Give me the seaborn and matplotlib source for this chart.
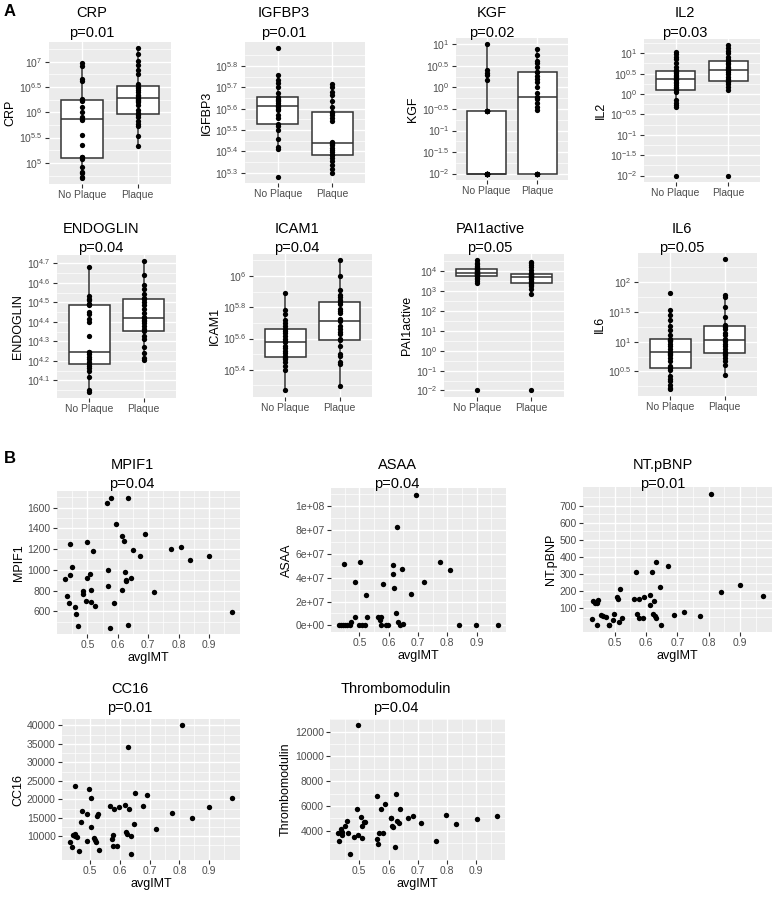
import pandas as pd
import seaborn as sns
import matplotlib.pyplot as plt
from matplotlib.ticker import FixedLocator, FuncFormatter

W, H = 777, 898
GROUPS = ['No Plaque', 'Plaque']

# ---- panel A: log10 levels by plaque status
crp_no = [4.71, 4.73, 4.80, 4.82, 4.92, 5.08, 5.11, 5.11, 5.35, 5.55, 5.85, 5.87, 5.91, 6.00, 6.10, 6.22,
          6.25, 6.27, 6.62, 6.66, 6.92, 6.97]
crp_yes = [5.33, 5.53, 5.73, 5.77, 5.82, 5.90, 5.95, 5.98, 6.05, 6.14, 6.20, 6.22, 6.25, 6.27, 6.29, 6.32,
           6.35, 6.39, 6.44, 6.48, 6.50, 6.55, 6.76, 6.84, 6.93, 7.02, 7.15, 7.26]
igfbp3_no = [5.282, 5.409, 5.422, 5.456, 5.502, 5.521, 5.530, 5.555, 5.572, 5.595, 5.600, 5.608, 5.612,
             5.617, 5.625, 5.634, 5.640, 5.645, 5.655, 5.673, 5.701, 5.722, 5.735, 5.757, 5.882]
igfbp3_yes = [5.298, 5.316, 5.338, 5.357, 5.370, 5.381, 5.384, 5.397, 5.405, 5.416, 5.429, 5.435, 5.440,
              5.443, 5.541, 5.557, 5.570, 5.580, 5.583, 5.608, 5.634, 5.665, 5.676, 5.701, 5.716]
kgf_no = [-2, -2, -2, -2, -2, -2, -2, -2, -2, -2, -2, -2, -2, -0.54, -0.54, -0.54, -0.54, -0.54, -0.54,
          0.17, 0.29, 0.34, 0.41, 1.0]
kgf_yes = [-2, -2, -2, -2, -2, -2, -2, -0.519, -0.45, -0.35, -0.272, -0.25, -0.211, -0.118, 0.005, 0.136,
           0.198, 0.268, 0.35, 0.368, 0.483, 0.56, 0.614, 0.753, 0.884]
il2_no = [-2, -0.32, -0.28, -0.22, -0.15, 0.05, 0.09, 0.11, 0.14, 0.18, 0.22, 0.26, 0.30, 0.34, 0.357, 0.38,
          0.41, 0.44, 0.47, 0.505, 0.54, 0.563, 0.59, 0.67, 0.75, 0.85, 0.92, 0.975, 1.02]
il2_yes = [-2, 0.11, 0.176, 0.233, 0.30, 0.31, 0.324, 0.365, 0.423, 0.489, 0.547, 0.58, 0.596, 0.604, 0.63,
           0.67, 0.728, 0.76, 0.80, 0.852, 0.918, 1.0, 1.066, 1.124, 1.19]
endoglin_no = [4.043, 4.051, 4.117, 4.146, 4.164, 4.172, 4.184, 4.195, 4.207, 4.221, 4.233, 4.245, 4.247,
               4.325, 4.397, 4.415, 4.440, 4.449, 4.487, 4.490, 4.492, 4.510, 4.518, 4.530, 4.683]
endoglin_yes = [4.203, 4.216, 4.242, 4.273, 4.311, 4.328, 4.352, 4.363, 4.380, 4.394, 4.405, 4.411, 4.418,
                4.423, 4.446, 4.466, 4.484, 4.50, 4.515, 4.522, 4.54, 4.570, 4.591, 4.639, 4.709]
icam1_no = [5.267, 5.40, 5.426, 5.447, 5.469, 5.478, 5.484, 5.49, 5.507, 5.522, 5.537, 5.554, 5.58, 5.586,
            5.60, 5.619, 5.636, 5.651, 5.661, 5.683, 5.70, 5.721, 5.758, 5.784, 5.891]
icam1_yes = [5.293, 5.436, 5.447, 5.49, 5.501, 5.55, 5.593, 5.597, 5.629, 5.644, 5.661, 5.683, 5.711, 5.726,
             5.764, 5.779, 5.79, 5.822, 5.833, 5.85, 5.865, 5.88, 5.914, 6.0, 6.10]
pai1_no = [-2, 3.415, 3.498, 3.582, 3.666, 3.749, 3.78, 3.80, 3.833, 3.86, 3.88, 3.90, 3.92, 3.95, 4.0, 4.03,
           4.06, 4.09, 4.117, 4.15, 4.217, 4.25, 4.334, 4.42, 4.535]
pai1_yes = [-2, 2.83, 3.10, 3.25, 3.30, 3.35, 3.381, 3.45, 3.50, 3.58, 3.63, 3.67, 3.716, 3.74, 3.78, 3.80,
            3.83, 3.85, 3.866, 3.92, 4.05, 4.20, 4.33, 4.40, 4.45]
il6_no = [0.198, 0.22, 0.276, 0.338, 0.366, 0.422, 0.517, 0.556, 0.59, 0.668, 0.72, 0.769, 0.79, 0.81, 0.825,
          0.881, 0.92, 0.954, 1.004, 1.02, 1.035, 1.043, 1.105, 1.189, 1.261, 1.368, 1.44, 1.536, 1.821]
il6_yes = [0.433, 0.60, 0.668, 0.72, 0.78, 0.80, 0.814, 0.825, 0.87, 0.926, 0.965, 1.01, 1.026, 1.049, 1.105,
           1.149, 1.205, 1.245, 1.261, 1.284, 1.412, 1.58, 1.748, 1.776, 2.375]

# ---- panel B: levels vs average IMT
mpif1_imt = [0.427, 0.433, 0.438, 0.442, 0.443, 0.448, 0.459, 0.463, 0.470, 0.484, 0.484, 0.495, 0.498, 0.498,
             0.508, 0.513, 0.513, 0.518, 0.524, 0.564, 0.567, 0.567, 0.573, 0.579, 0.589, 0.595, 0.613, 0.613,
             0.620, 0.623, 0.627, 0.628, 0.634, 0.634, 0.643, 0.649, 0.672, 0.688, 0.718, 0.774, 0.809, 0.839,
             0.900, 0.975]
mpif1 = [909, 750, 678, 1245, 949, 1030, 642, 574, 463, 795, 763, 701, 1265, 926, 958, 809, 691, 1183, 652,
         1642, 841, 994, 444, 1694, 682, 1444, 1323, 805, 1274, 975, 900, 890, 470, 1698, 926, 1193, 1134, 1349,
         782, 1203, 1216, 1095, 1134, 597]
asaa_imt = [0.430, 0.438, 0.444, 0.447, 0.452, 0.459, 0.467, 0.471, 0.486, 0.486, 0.499, 0.502, 0.510, 0.519,
            0.521, 0.527, 0.563, 0.569, 0.572, 0.575, 0.580, 0.591, 0.597, 0.614, 0.615, 0.619, 0.625, 0.627,
            0.630, 0.638, 0.645, 0.649, 0.675, 0.692, 0.720, 0.775, 0.810, 0.839, 0.899, 0.973]
asaa = [0, 0, 0, 5.14e7, 0, 0, 0, 0.28e7, 0.73e7, 3.59e7, 0, 5.31e7, 0, 0, 2.54e7, 0.68e7, 0.73e7, 0.48e7, 0,
        0.68e7, 3.50e7, 0, 0, 5.06e7, 4.29e7, 3.11e7, 1.07e7, 8.19e7, 0.28e7, 0, 4.72e7, 0.11e7, 2.60e7,
        10.93e7, 3.62e7, 5.31e7, 4.66e7, 0, 0, 0]
ntpbnp_imt = [0.426, 0.432, 0.437, 0.442, 0.442, 0.446, 0.457, 0.463, 0.471, 0.483, 0.483, 0.495, 0.499, 0.507,
              0.509, 0.515, 0.518, 0.523, 0.563, 0.569, 0.570, 0.576, 0.579, 0.589, 0.595, 0.612, 0.612, 0.620,
              0.623, 0.626, 0.628, 0.631, 0.633, 0.644, 0.649, 0.670, 0.689, 0.720, 0.773, 0.809, 0.838, 0.899,
              0.975]
ntpbnp = [36, 141, 133, 131, 2, 151, 64, 54, 52, 6, 1, 34, 68, 167, 153, 22, 213, 44, 153, 310, 68, 44, 157, 42,
          167, 181, 121, 312, 68, 141, 54, 370, 44, 227, 5, 346, 62, 82, 54, 770, 197, 239, 171]
cc16_imt = [0.449, 0.433, 0.438, 0.444, 0.449, 0.451, 0.455, 0.464, 0.469, 0.473, 0.489, 0.489, 0.498, 0.503,
            0.503, 0.513, 0.517, 0.520, 0.522, 0.526, 0.529, 0.567, 0.573, 0.576, 0.576, 0.582, 0.592, 0.596,
            0.617, 0.620, 0.624, 0.628, 0.631, 0.637, 0.639, 0.648, 0.650, 0.676, 0.690, 0.720, 0.775, 0.810,
            0.841, 0.899, 0.976]
cc16 = [23500, 8430, 7080, 10220, 10580, 10040, 9860, 6000, 13810, 16770, 16140, 8600, 22780, 20450, 12460,
        9500, 8870, 8430, 15600, 16050, 6180, 18200, 9320, 10400, 7350, 17490, 7260, 18020, 18380, 11120, 10670,
        34170, 17310, 5290, 10040, 13270, 21700, 18290, 21250, 11830, 16230, 40000, 14970, 18020, 20400]
thrombo_imt = [0.427, 0.432, 0.436, 0.440, 0.442, 0.451, 0.458, 0.462, 0.467, 0.482, 0.492, 0.497, 0.497,
               0.505, 0.508, 0.509, 0.516, 0.520, 0.560, 0.562, 0.564, 0.568, 0.573, 0.582, 0.587, 0.607, 0.609,
               0.612, 0.616, 0.622, 0.627, 0.630, 0.636, 0.639, 0.668, 0.684, 0.710, 0.761, 0.795, 0.829, 0.901,
               0.971]
thrombo = [3850, 3150, 4100, 3650, 3900, 4400, 4800, 3850, 2150, 3500, 5750, 3650, 12500, 5100, 3400, 4350,
           4700, 4700, 6800, 3300, 2950, 3850, 5750, 3850, 6150, 5050, 5000, 4400, 4300, 2700, 7000, 4800, 4600,
           5750, 5050, 5200, 4600, 3200, 5300, 4500, 4950, 5200]

sns.set_theme(style='darkgrid', rc={'axes.facecolor': '#EBEBEB', 'grid.color': 'white',
                                    'text.color': 'black', 'axes.labelcolor': 'black'})
plt.rcParams['font.family'] = ['Liberation Sans', 'DejaVu Sans']
plt.rcParams['mathtext.fontset'] = 'custom'
plt.rcParams['mathtext.rm'] = 'Liberation Sans'
plt.rcParams['mathtext.it'] = 'Liberation Sans:italic'
plt.rcParams['mathtext.bf'] = 'Liberation Sans:bold'

fig = plt.figure(figsize=(W / 100, H / 100), dpi=100)


def add_ax(x0, y0, x1, y1):
    return fig.add_axes([x0 / W, 1 - y1 / H, (x1 - x0) / W, (y1 - y0) / H])


def gg_style(ax, major, minor, fmt):
    ax.yaxis.set_major_locator(FixedLocator(major))
    ax.yaxis.set_minor_locator(FixedLocator(minor))
    ax.yaxis.set_major_formatter(FuncFormatter(fmt))
    ax.grid(which='major', axis='both', color='white', linewidth=1.0)
    ax.grid(which='minor', axis='both', color='white', linewidth=0.5)
    ax.tick_params(which='major', left=True, bottom=True, length=3, width=0.8, color='#333333',
                   labelcolor='#4D4D4D', labelsize=7.5, pad=1.5)
    ax.tick_params(which='minor', length=0)
    for s in ax.spines.values():
        s.set_visible(False)


def title(cx, y1, y2, name, p):
    fig.text(cx / W, 1 - y1 / H, name, ha='center', va='center', fontsize=10.5)
    fig.text(cx / W, 1 - y2 / H, p, ha='center', va='center', fontsize=10.5)


def pow10(v, pos):
    return f'$10^{{{v:g}}}$'


def box_panel(box, no, yes, name, major, minor):
    ax = add_ax(*box)
    df = pd.DataFrame({'group': ['No Plaque'] * len(no) + ['Plaque'] * len(yes), 'value': no + yes})
    sns.boxplot(data=df, x='group', y='value', order=GROUPS, width=0.75, color='white',
                linecolor='#333333', linewidth=1.1, showfliers=False,
                capprops={'linewidth': 0}, ax=ax)
    sns.stripplot(data=df, x='group', y='value', order=GROUPS, jitter=False, color='black',
                  size=3.8, ax=ax)
    ax.set_xlim(-0.6, 1.6)
    ax.set_xlabel('')
    ax.set_ylabel(name, fontsize=9, labelpad=2)
    gg_style(ax, major, minor, pow10)
    return ax


def scatter_panel(box, imt, vals, name, major, minor, fmt=lambda v, pos: f'{v:g}'):
    ax = add_ax(*box)
    sns.scatterplot(x=imt, y=vals, color='black', s=15, linewidth=0, ax=ax)
    ax.set_xlabel('avgIMT', fontsize=9, labelpad=1)
    ax.set_ylabel(name, fontsize=9, labelpad=2)
    ax.xaxis.set_major_locator(FixedLocator([0.5, 0.6, 0.7, 0.8, 0.9]))
    ax.xaxis.set_minor_locator(FixedLocator([0.45, 0.55, 0.65, 0.75, 0.85, 0.95]))
    ax.xaxis.set_major_formatter(FuncFormatter(lambda v, pos: f'{v:g}'))
    gg_style(ax, major, minor, fmt)
    return ax


def steps(a, b, d):
    n = int(round((b - a) / d))
    return [round(a + i * d, 4) for i in range(n + 1)]


# panel A, row 1
box_panel((49, 42, 171, 184), crp_no, crp_yes, 'CRP', steps(5, 7, 0.5), steps(4.75, 7.25, 0.5))
title(92, 13, 33, 'CRP', 'p=0.01')
box_panel((245, 42, 365, 183), igfbp3_no, igfbp3_yes, 'IGFBP3', steps(5.3, 5.8, 0.1), steps(5.25, 5.85, 0.1))
title(284, 13, 33, 'IGFBP3', 'p=0.01')
box_panel((456, 38, 568, 180), kgf_no, kgf_yes, 'KGF', steps(-2, 1, 0.5), steps(-2.25, 1.25, 0.5))
title(492, 13, 33, 'KGF', 'p=0.02')
box_panel((644, 39, 760, 182), il2_no, il2_yes, 'IL2', steps(-2, 1, 0.5), steps(-2.25, 1.25, 0.5))
title(685, 13, 33, 'IL2', 'p=0.03')

# panel A, row 2
box_panel((57, 255, 176, 398), endoglin_no, endoglin_yes, 'ENDOGLIN', steps(4.1, 4.7, 0.1), steps(4.05, 4.75, 0.1))
title(101, 229, 248, 'ENDOGLIN', 'p=0.04')
box_panel((253, 254, 372, 397), icam1_no, icam1_yes, 'ICAM1', steps(5.4, 6.0, 0.2), steps(5.3, 6.1, 0.2))
title(297, 229, 248, 'ICAM1', 'p=0.04')
box_panel((444, 254, 564, 397), pai1_no, pai1_yes, 'PAI1active', steps(-2, 4, 1), steps(-2.5, 4.5, 1))
title(490, 229, 248, 'PAI1active', 'p=0.05')
box_panel((638, 253, 757, 396), il6_no, il6_yes, 'IL6', steps(0.5, 2, 0.5), steps(0.25, 2.25, 0.5))
title(682, 229, 248, 'IL6', 'p=0.05')

# panel B, row 1
scatter_panel((57, 491, 240, 634), mpif1_imt, mpif1, 'MPIF1', steps(600, 1600, 200), steps(500, 1700, 200))
title(132, 465, 484, 'MPIF1', 'p=0.04')
scatter_panel((331, 488, 506, 632), asaa_imt, asaa, 'ASAA', steps(0, 1e8, 2e7), steps(-1e7, 1.1e8, 2e7),
              fmt=lambda v, pos: f'{v:.0e}')
title(397, 465, 484, 'ASAA', 'p=0.04')
scatter_panel((583, 487, 772, 632), ntpbnp_imt, ntpbnp, 'NT.pBNP', steps(100, 700, 100), steps(50, 750, 100))
title(663, 465, 484, 'NT.pBNP', 'p=0.01')

# panel B, row 2
scatter_panel((62, 719, 240, 860), cc16_imt, cc16, 'CC16', steps(10000, 40000, 5000), steps(7500, 42500, 5000))
title(130, 689, 708, 'CC16', 'p=0.01')
scatter_panel((330, 719, 505, 860), thrombo_imt, thrombo, 'Thrombomodulin', steps(4000, 12000, 2000),
              steps(3000, 13000, 2000))
title(396, 689, 708, 'Thrombomodulin', 'p=0.04')

fig.text(10 / W, 1 - 12 / H, 'A', ha='center', va='center', fontsize=12, fontweight='bold')
fig.text(10 / W, 1 - 458 / H, 'B', ha='center', va='center', fontsize=12, fontweight='bold')

fig.savefig('out.png', dpi=100)
